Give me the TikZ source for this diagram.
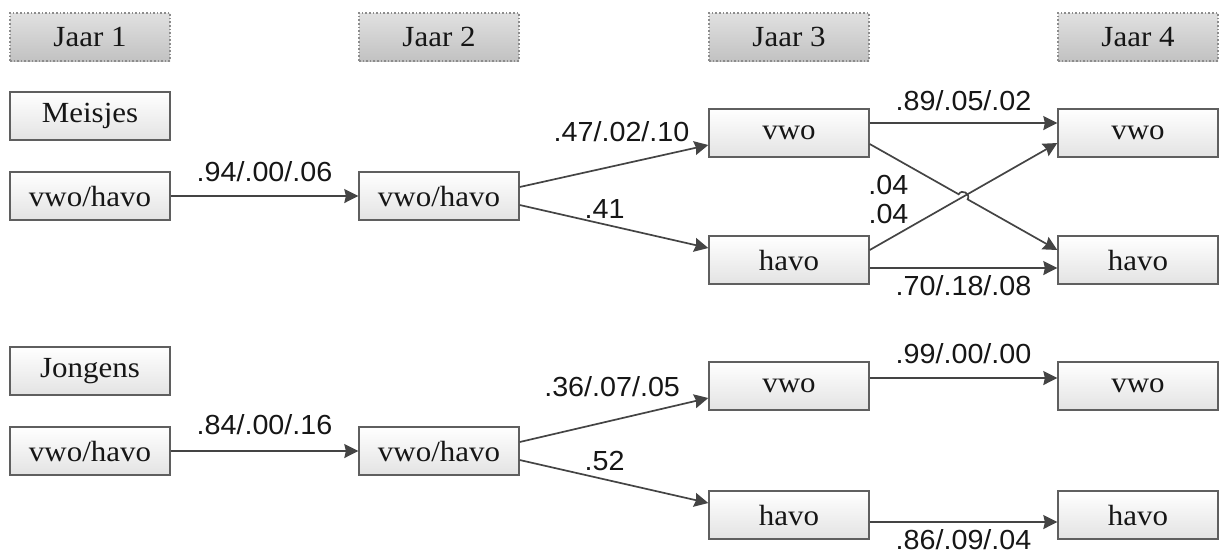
\documentclass[tikz,border=0pt]{standalone}
\usepackage{fontspec}
\setmainfont{Liberation Serif}[FakeStretch=1.06]
\newfontfamily\numfont{Liberation Sans}[FakeStretch=1.04]
\usepackage{tikz}
\usetikzlibrary{arrows.meta,calc}
\usepackage{xcolor}
\definecolor{linecol}{RGB}{68,68,68}
\definecolor{boxcol}{RGB}{95,95,95}
\definecolor{txtcol}{RGB}{22,22,22}
\tikzset{
  % year header box
  yearbox/.style={rectangle, draw=black!45, densely dotted, line width=0.8pt,
                  top color=black!12, bottom color=black!24,
                  minimum width=80pt, minimum height=24pt, inner sep=0pt,
                  font=\fontsize{14.6}{16}\selectfont, text=txtcol},
  % school level box
  lvlbox/.style={rectangle, draw=boxcol, line width=0.7pt,
                 top color=white, bottom color=black!11,
                 minimum width=80pt, minimum height=24pt, inner sep=0pt,
                 font=\fontsize{14.6}{16}\selectfont, text=txtcol},
  % transition arrow
  trans/.style={-{Stealth[length=7pt,width=7pt,inset=0.8pt]}, draw=linecol, line width=0.85pt},
  % transition probabilities
  plabel/.style={font=\numfont\fontsize{13.8}{15}\selectfont, text=txtcol, inner sep=0pt},
}

\begin{document}
\begin{tikzpicture}[x=0.5pt,y=-0.5pt]
  \useasboundingbox (0,0) rectangle (1219,554);

  % Year headers
  \node[yearbox] (j1) at (90,37)   {Jaar 1};
  \node[yearbox] (j2) at (439,37)  {Jaar 2};
  \node[yearbox] (j3) at (789,37)  {Jaar 3};
  \node[yearbox] (j4) at (1138,37) {Jaar 4};

  % Meisjes
  \node[lvlbox] (meis) at (90,116)   {Meisjes};
  \node[lvlbox] (m1)   at (90,196)   {vwo/havo};
  \node[lvlbox] (m2)   at (439,196)  {vwo/havo};
  \node[lvlbox] (mv3)  at (789,133)  {vwo};
  \node[lvlbox] (mh3)  at (789,260)  {havo};
  \node[lvlbox] (mv4)  at (1138,133) {vwo};
  \node[lvlbox] (mh4)  at (1138,260) {havo};

  \draw[trans] (m1.east) -- node[plabel, midway, above=6.5pt]{.94/.00/.06} (m2.west);
  \draw[trans] ([yshift=4.5pt]m2.east) -- node[plabel, pos=.54, above=11pt]{.47/.02/.10} ([yshift=-6pt]mv3.west);
  \draw[trans] ([yshift=-4.5pt]m2.east) -- node[plabel, pos=.45, above=2.5pt]{.41} ([yshift=6pt]mh3.west);
  \draw[trans] ([yshift=5pt]mv3.east) -- node[plabel, midway, above=5.5pt]{.89/.05/.02} ([yshift=5pt]mv4.west);
  \draw[trans] ([yshift=-4pt]mh3.east) -- node[plabel, midway, below=3.5pt]{.70/.18/.08} ([yshift=-4pt]mh4.west);
  \draw[trans] ([yshift=5pt]mh3.east) -- node[plabel, pos=.1, above=7.5pt]{.04} ([yshift=-5pt]mv4.west);

  % crossing arrow with a hop
  \coordinate (a1) at ([yshift=-5.5pt]mv3.east);
  \coordinate (a2) at ([yshift=5pt]mh4.west);
  \draw[trans] (a1) -- node[plabel, pos=.21, below=10pt]{.04} ($(a1)!0.474!(a2)$)
    to[bend left=90, looseness=1.6] ($(a1)!0.522!(a2)$) -- (a2);

  % Jongens
  \node[lvlbox] (jong) at (90,371)   {Jongens};
  \node[lvlbox] (b1)   at (90,451)   {vwo/havo};
  \node[lvlbox] (b2)   at (439,451)  {vwo/havo};
  \node[lvlbox] (bv3)  at (789,386)  {vwo};
  \node[lvlbox] (bh3)  at (789,515)  {havo};
  \node[lvlbox] (bv4)  at (1138,386) {vwo};
  \node[lvlbox] (bh4)  at (1138,515) {havo};

  \draw[trans] (b1.east) -- node[plabel, midway, above=7.5pt]{.84/.00/.16} (b2.west);
  \draw[trans] ([yshift=4.5pt]b2.east) -- node[plabel, pos=.49, above=11.5pt]{.36/.07/.05} ([yshift=-6pt]bv3.west);
  \draw[trans] ([yshift=-4.5pt]b2.east) -- node[plabel, pos=.45, above=3.7pt]{.52} ([yshift=6pt]bh3.west);
  \draw[trans] ([yshift=4pt]bv3.east) -- node[plabel, midway, above=6.5pt]{.99/.00/.00} ([yshift=4pt]bv4.west);
  \draw[trans] ([yshift=-3.5pt]bh3.east) -- node[plabel, midway, below=3.5pt]{.86/.09/.04} ([yshift=-3.5pt]bh4.west);
\end{tikzpicture}
\end{document}
